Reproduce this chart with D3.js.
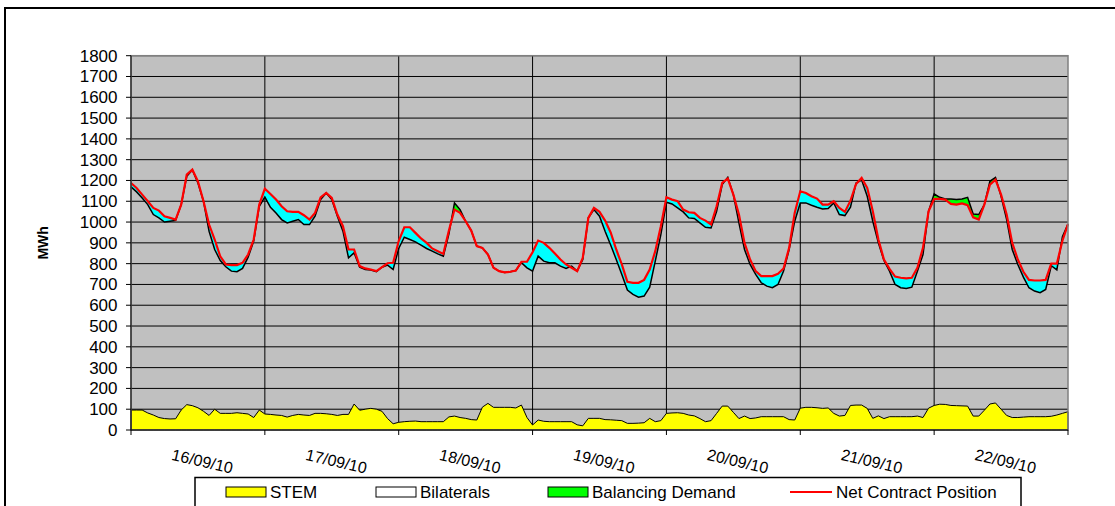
<!DOCTYPE html>
<html>
<head>
<meta charset="utf-8">
<script src="https://cdn.jsdelivr.net/npm/d3@7"></script>
<style>
  body { margin: 0; background: #fff; }
  text { font-family: "Liberation Sans", Arial, sans-serif; }
</style>
</head>
<body>
<div id="chart-area"></div>
<script>
// Trading days shown on the axis
const dayLabels = ["16/09/10", "17/09/10", "18/09/10", "19/09/10", "20/09/10", "21/09/10", "22/09/10"];
const yTicks = d3.range(0, 1801, 100);

// Hourly values, 24 per day plus the closing point
const stemMWh = [
  96, 96, 96, 82, 72, 60, 55, 53, 54, 96, 122, 117, 107, 90, 70, 100, 80, 80, 80, 83, 80, 77, 60, 96,
  77, 75, 72, 70, 62, 70, 75, 72, 70, 80, 80, 78, 75, 70, 75, 75, 125, 95, 100, 104, 100, 90, 55, 30,
  37, 40, 42, 43, 40, 40, 40, 40, 40, 63, 67, 60, 56, 50, 48, 110, 128, 109, 109, 109, 109, 106, 120, 60,
  24, 48, 42, 40, 40, 40, 40, 40, 25, 20, 56, 56, 56, 50, 49, 47, 45, 32, 32, 33, 35, 56, 40, 45,
  80, 82, 83, 80, 72, 68, 55, 40, 45, 80, 115, 115, 85, 55, 67, 55, 58, 64, 64, 64, 64, 64, 50, 48,
  105, 109, 109, 107, 104, 106, 80, 67, 70, 118, 120, 120, 104, 56, 68, 55, 64, 64, 64, 64, 64, 67, 60, 105,
  118, 124, 123, 118, 117, 116, 115, 67, 67, 95, 125, 130, 100, 70, 60, 60, 62, 64, 64, 64, 64, 66, 72, 80,
  88
];

// STEM + Bilaterals (black outline)
const stackTopMWh = [
  1169, 1145, 1116, 1084, 1036, 1020, 1000, 1004, 1008, 1084, 1220, 1250, 1188, 1100, 956, 868, 815, 785, 764, 761, 777, 831, 908, 1076,
  1120, 1071, 1044, 1012, 996, 1004, 1012, 988, 988, 1028, 1108, 1140, 1108, 1028, 956, 828, 852, 783, 772, 769, 761, 783, 793, 772,
  873, 927, 916, 905, 889, 873, 860, 847, 836, 943, 1092, 1060, 1004, 959, 884, 876, 844, 780, 764, 758, 761, 767, 805, 780,
  764, 836, 812, 804, 804, 788, 777, 788, 764, 820, 1020, 1060, 1028, 956, 890, 820, 748, 673, 652, 639, 644, 687, 812, 940,
  1095, 1087, 1068, 1049, 1020, 1017, 996, 975, 972, 1052, 1180, 1215, 1132, 996, 868, 796, 748, 708, 692, 684, 700, 764, 868, 1004,
  1092, 1092, 1081, 1071, 1063, 1065, 1092, 1036, 1031, 1071, 1188, 1202, 1124, 1004, 900, 815, 764, 700, 684, 681, 687, 764, 844, 1052,
  1135, 1119, 1111, 1111, 1108, 1111, 1119, 1039, 1036, 1084, 1196, 1215, 1124, 1012, 868, 796, 735, 684, 668, 660, 676, 790, 770, 930,
  990
];

const netContractMWh = [
  1188, 1164, 1132, 1100, 1068, 1055, 1028, 1020, 1012, 1084, 1228, 1252, 1196, 1100, 988, 916, 835, 796, 793, 793, 804, 844, 916, 1084,
  1160, 1135, 1108, 1076, 1052, 1049, 1049, 1033, 1012, 1044, 1119, 1140, 1116, 1036, 980, 868, 868, 788, 777, 772, 764, 783, 802, 804,
  908, 975, 975, 948, 921, 900, 873, 860, 847, 959, 1060, 1044, 1004, 959, 884, 876, 844, 780, 764, 758, 761, 767, 809, 809,
  855, 911, 900, 876, 849, 820, 796, 780, 764, 828, 1020, 1068, 1049, 1007, 950, 868, 796, 713, 708, 708, 722, 772, 860, 980,
  1119, 1108, 1100, 1060, 1047, 1044, 1020, 1007, 988, 1076, 1188, 1209, 1132, 1036, 900, 820, 764, 740, 740, 740, 751, 777, 876, 1044,
  1148, 1140, 1124, 1113, 1084, 1084, 1100, 1068, 1049, 1103, 1183, 1212, 1164, 1052, 916, 820, 775, 738, 732, 729, 732, 780, 876, 1052,
  1111, 1111, 1108, 1087, 1084, 1090, 1081, 1023, 1012, 1084, 1180, 1204, 1132, 1036, 900, 820, 761, 722, 719, 719, 722, 800, 800, 910,
  990
];

const legendItems = [
  {name: "STEM", kind: "box", fill: "#ffff00", x: 226},
  {name: "Bilaterals", kind: "box", fill: "#ffffff", x: 376},
  {name: "Balancing Demand", kind: "box", fill: "#00ff00", x: 548},
  {name: "Net Contract Position", kind: "line", fill: "#ff0000", x: 790}
];

const plotLeft = 131, plotRight = 1068, plotTop = 55.7, plotBottom = 430;

const svg = d3.select("#chart-area").append("svg")
    .attr("width", 1115)
    .attr("height", 506);

// outer chart frame
svg.append("rect")
    .attr("x", 5).attr("y", 8)
    .attr("width", 1200).attr("height", 600)
    .attr("fill", "none").attr("stroke", "#000").attr("stroke-width", 2);

const x = d3.scaleLinear().domain([0, 24 * dayLabels.length]).range([plotLeft, plotRight]);
const y = d3.scaleLinear().domain([0, 1800]).range([plotBottom, plotTop]);

// plot background
svg.append("rect")
    .attr("x", plotLeft).attr("y", plotTop)
    .attr("width", plotRight - plotLeft).attr("height", plotBottom - plotTop)
    .attr("fill", "#c0c0c0");

// gridlines
svg.append("g").selectAll("line").data(yTicks.slice(1)).join("line")
    .attr("x1", plotLeft).attr("x2", plotRight)
    .attr("y1", d => y(d)).attr("y2", d => y(d))
    .attr("stroke", "#000").attr("stroke-width", 1);

svg.append("g").selectAll("line").data(d3.range(1, dayLabels.length)).join("line")
    .attr("x1", d => x(d * 24)).attr("x2", d => x(d * 24))
    .attr("y1", plotTop).attr("y2", plotBottom)
    .attr("stroke", "#000").attr("stroke-width", 1);

const idx = d3.range(stemMWh.length);

// STEM area
svg.append("path")
    .attr("d", d3.area().x(i => x(i)).y0(y(0)).y1(i => y(stemMWh[i]))(idx))
    .attr("fill", "#ffff00").attr("stroke", "#000").attr("stroke-width", 1);

// shortfall (cyan) and balancing demand (green) between the two lines
svg.append("path")
    .attr("d", d3.area().x(i => x(i))
        .y0(i => y(stackTopMWh[i]))
        .y1(i => y(Math.max(stackTopMWh[i], netContractMWh[i])))(idx))
    .attr("fill", "#00ffff");

svg.append("path")
    .attr("d", d3.area().x(i => x(i))
        .y0(i => y(netContractMWh[i]))
        .y1(i => y(Math.max(stackTopMWh[i], netContractMWh[i])))(idx))
    .attr("fill", "#00ff00");

svg.append("path")
    .attr("d", d3.line().x(i => x(i)).y(i => y(stackTopMWh[i]))(idx))
    .attr("fill", "none").attr("stroke", "#000").attr("stroke-width", 1.5);

svg.append("path")
    .attr("d", d3.line().x(i => x(i)).y(i => y(netContractMWh[i]))(idx))
    .attr("fill", "none").attr("stroke", "#ff0000").attr("stroke-width", 2.2);

// plot border
svg.append("rect")
    .attr("x", plotLeft).attr("y", plotTop)
    .attr("width", plotRight - plotLeft).attr("height", plotBottom - plotTop)
    .attr("fill", "none").attr("stroke", "#808080").attr("stroke-width", 1.5);

// y axis
const yAxis = svg.append("g");
yAxis.append("line")
    .attr("x1", plotLeft).attr("x2", plotLeft)
    .attr("y1", plotTop).attr("y2", plotBottom)
    .attr("stroke", "#000");
yAxis.selectAll("line.tick").data(yTicks).join("line")
    .attr("class", "tick")
    .attr("x1", plotLeft - 5).attr("x2", plotLeft)
    .attr("y1", d => y(d)).attr("y2", d => y(d))
    .attr("stroke", "#000");
yAxis.selectAll("text").data(yTicks).join("text")
    .attr("x", 117.5).attr("y", d => y(d) + 0.5)
    .attr("text-anchor", "end")
    .attr("dominant-baseline", "central")
    .attr("font-size", "17px")
    .text(d => d);

svg.append("text")
    .attr("transform", `translate(48,${(plotTop + plotBottom) / 2}) rotate(-90)`)
    .attr("text-anchor", "middle")
    .attr("font-size", "14px")
    .attr("font-weight", "bold")
    .text("MWh");

// x axis
const xAxis = svg.append("g");
xAxis.append("line")
    .attr("x1", plotLeft).attr("x2", plotRight)
    .attr("y1", plotBottom).attr("y2", plotBottom)
    .attr("stroke", "#000");
xAxis.selectAll("line.tick").data(d3.range(0, dayLabels.length + 1)).join("line")
    .attr("class", "tick")
    .attr("x1", d => x(d * 24)).attr("x2", d => x(d * 24))
    .attr("y1", plotBottom).attr("y2", plotBottom + 5)
    .attr("stroke", "#000");
xAxis.selectAll("text").data(dayLabels).join("text")
    .attr("transform", (d, i) => `translate(${x(i * 24 + 12) + 4.5},461.5) rotate(13)`)
    .attr("text-anchor", "middle")
    .attr("dominant-baseline", "central")
    .attr("font-size", "16px")
    .text(d => d);

// legend
const legend = svg.append("g");
legend.append("rect")
    .attr("x", 195).attr("y", 477.5)
    .attr("width", 826).attr("height", 40)
    .attr("fill", "#fff").attr("stroke", "#000").attr("stroke-width", 1.5);

legendItems.forEach(item => {
    if (item.kind === "box") {
        legend.append("rect")
            .attr("x", item.x).attr("y", 487)
            .attr("width", 40).attr("height", 10)
            .attr("fill", item.fill).attr("stroke", "#000").attr("stroke-width", 1);
    } else {
        legend.append("line")
            .attr("x1", item.x).attr("x2", item.x + 42)
            .attr("y1", 492).attr("y2", 492)
            .attr("stroke", item.fill).attr("stroke-width", 2);
    }
    legend.append("text")
        .attr("x", item.x + (item.kind === "box" ? 44 : 46))
        .attr("y", 492.5)
        .attr("dominant-baseline", "central")
        .attr("font-size", "17px")
        .text(item.name);
});
</script>
</body>
</html>
